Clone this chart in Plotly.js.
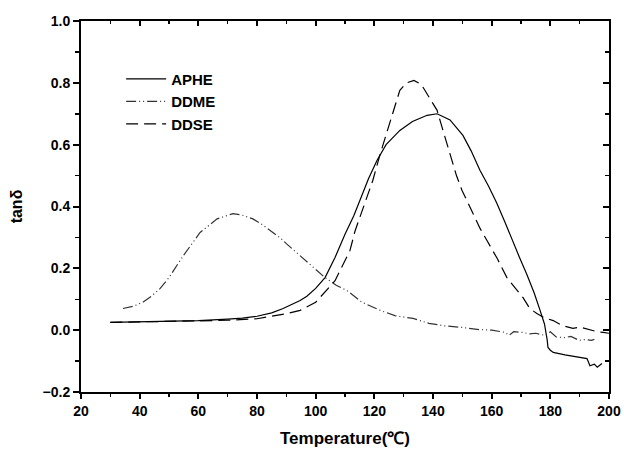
<!DOCTYPE html>
<html><head><meta charset="utf-8">
<script src="https://cdn.plot.ly/plotly-3.0.1.min.js"></script>
<style>html,body{margin:0;padding:0;background:#fff}#chart{width:624px;height:454px}</style>
</head><body><div id="chart"></div>
<script>
const aphe_T = [30,40,50,60,70,75,80,85,88.9,92,94.7,97,100,103.2,106.6,110,113,115.1,118,120.9,124,128.7,133,138,141.4,145.8,150.2,153,156,159,161.8,164.5,167,169.5,172,174.5,176.5,178,178.9,179.2,180,181,185,189,192.5,193.5,195,196,197.6];
const aphe_v = [0.025,0.027,0.029,0.031,0.036,0.039,0.045,0.056,0.07,0.085,0.096,0.11,0.135,0.17,0.235,0.31,0.37,0.42,0.49,0.549,0.60,0.646,0.675,0.695,0.70,0.68,0.63,0.58,0.517,0.465,0.41,0.35,0.29,0.235,0.18,0.12,0.064,0.02,-0.03,-0.056,-0.065,-0.072,-0.08,-0.086,-0.092,-0.115,-0.11,-0.12,-0.108];

const ddme_T = [34.3,38,41,44,47,50,54.8,60.6,66.4,71.8,75,78.6,82,85.5,88,90,93.6,95.7,100,103.2,107,110.7,115.8,122,127,133.2,138.6,144,149.9,155.7,160,164.5,165.9,167.5,170.3,173,175,178.2,180,182,185,187,189.8,192,194,195];
const ddme_v = [0.07,0.078,0.09,0.11,0.135,0.17,0.24,0.316,0.36,0.377,0.372,0.36,0.34,0.316,0.298,0.28,0.25,0.23,0.195,0.17,0.145,0.128,0.09,0.064,0.047,0.038,0.022,0.014,0.009,0.002,0.0,-0.007,-0.017,-0.005,-0.007,-0.012,-0.01,-0.017,-0.005,-0.022,-0.024,-0.02,-0.033,-0.03,-0.033,-0.03];

const ddse_T = [30,40,50,60,70,80,85.5,90,94.7,100,106.6,111.7,113.4,116.8,119.5,122,125.3,128.7,131,133.5,136,138.6,141.4,143.4,146.5,148,149.9,151.5,153.6,156,158.4,160,162,165.2,168,170.7,173,175.4,178,181,184,187.7,190,193.5,196,198,200];
const ddse_v = [0.025,0.027,0.028,0.03,0.032,0.037,0.045,0.053,0.064,0.09,0.16,0.258,0.32,0.41,0.485,0.57,0.67,0.776,0.80,0.808,0.795,0.753,0.711,0.646,0.55,0.50,0.452,0.42,0.377,0.33,0.29,0.265,0.23,0.17,0.135,0.105,0.07,0.054,0.04,0.031,0.015,0.006,0.01,0.0,-0.005,-0.007,-0.01];

const seriesNames = ['APHE','DDME','DDSE'];
const xTitle = 'Temperature(℃)';
const yTitle = 'tanδ';

const traces = [
  {x: aphe_T, y: aphe_v, name: seriesNames[0], mode: 'lines', line: {color: '#000', width: 1.2, dash: 'solid'}},
  {x: ddme_T, y: ddme_v, name: seriesNames[1], mode: 'lines', line: {color: '#333', width: 1.2, dash: '10px,3px,1px,3px,1px,3px'}},
  {x: ddse_T, y: ddse_v, name: seriesNames[2], mode: 'lines', line: {color: '#000', width: 1.2, dash: '12px,6px'}}
];

const F = 'Liberation Sans, Arial, sans-serif';
const layout = {
  width: 624, height: 454,
  margin: {l: 81, r: 14.5, t: 21, b: 62},
  paper_bgcolor: '#fff', plot_bgcolor: '#fff',
  font: {family: F, color: '#000'},
  showlegend: true,
  legend: {x: 0.076, y: 0.888, xanchor: 'left', yanchor: 'top', bgcolor: 'rgba(0,0,0,0)',
           font: {family: F, size: 15, color: '#000', weight: 'bold'}, tracegroupgap: 0, itemwidth: 40},
  xaxis: {range: [20, 200], dtick: 20, tick0: 0, ticks: 'outside', ticklen: 5, tickwidth: 2, tickcolor: '#000',
          showgrid: false, zeroline: false, showline: true, linewidth: 2, linecolor: '#000', mirror: true,
          minor: {dtick: 10, ticks: 'outside', ticklen: 3, tickwidth: 1.5, tickcolor: '#000', showgrid: false},
          tickfont: {family: F, size: 14, weight: 'bold'},
          title: {text: xTitle, font: {family: F, size: 17, weight: 'bold'}, standoff: 14}},
  yaxis: {range: [-0.2, 1.0], dtick: 0.2, tick0: 0, ticks: 'outside', ticklen: 6, tickwidth: 2, tickcolor: '#000',
          tickformat: '.1f',
          showgrid: false, zeroline: false, showline: true, linewidth: 2, linecolor: '#000', mirror: true,
          minor: {dtick: 0.1, ticks: 'outside', ticklen: 4, tickwidth: 1.5, tickcolor: '#000', showgrid: false},
          tickfont: {family: F, size: 14, weight: 'bold'},
          title: {text: yTitle, font: {family: F, size: 16, weight: 'bold'}, standoff: 16}},
  xaxis2: {overlaying: 'x', side: 'top', range: [20, 200], dtick: 20, tick0: 0, ticks: 'inside', ticklen: 5, tickwidth: 2,
           tickcolor: '#000', showticklabels: false, showgrid: false, zeroline: false, showline: false,
           minor: {dtick: 10, ticks: 'inside', ticklen: 3, tickwidth: 1.5, tickcolor: '#000'}},
  yaxis2: {overlaying: 'y', side: 'right', range: [-0.2, 1.0], dtick: 0.2, tick0: 0, ticks: 'inside', ticklen: 6, tickwidth: 2,
           tickcolor: '#000', showticklabels: false, showgrid: false, zeroline: false, showline: false,
           minor: {dtick: 0.1, ticks: 'inside', ticklen: 4, tickwidth: 1.5, tickcolor: '#000'}}
};
traces.push({x: [], y: [], xaxis: 'x2', yaxis: 'y2', showlegend: false, hoverinfo: 'skip', mode: 'lines'});
Plotly.newPlot('chart', traces, layout, {displayModeBar: false, staticPlot: true});
</script></body></html>
